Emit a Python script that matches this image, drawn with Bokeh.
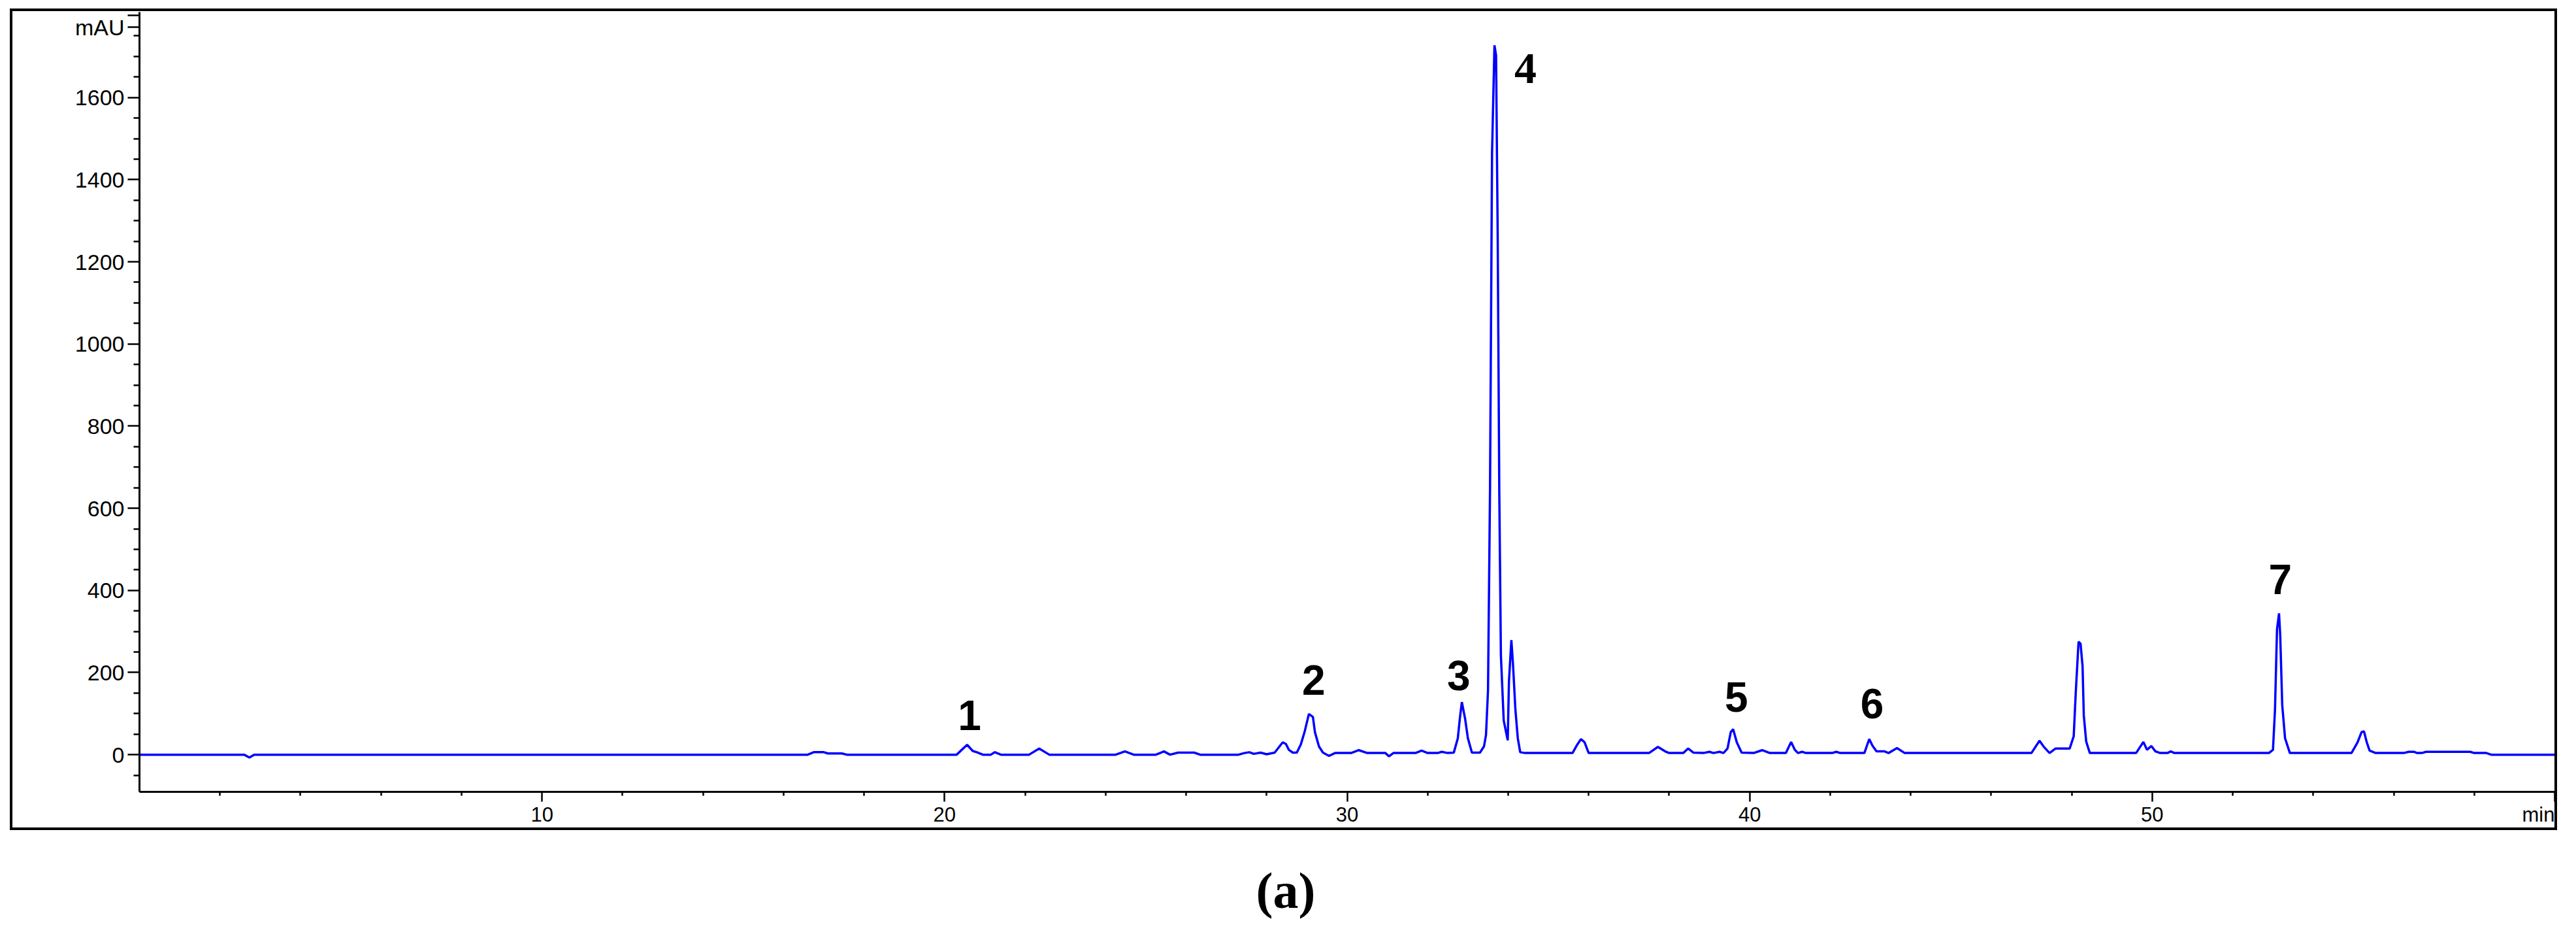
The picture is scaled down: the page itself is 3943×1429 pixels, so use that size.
from bokeh.plotting import figure
from bokeh.models import Range1d, FixedTicker, Label, ColumnDataSource
from bokeh.layouts import column
from bokeh.core.properties import value
from bokeh.embed import file_html
from bokeh.resources import INLINE

# ---- data ----
time_min = [
    0.0, 2.6, 2.73, 2.85, 16.6, 16.75, 17.0, 17.1, 17.45, 17.57,
    20.3, 20.56, 20.7, 20.8, 20.95, 21.15, 21.25, 21.4, 22.1, 22.35,
    22.6, 24.25, 24.48, 24.7, 25.25, 25.45, 25.6, 25.8, 26.2, 26.35,
    27.3, 27.45, 27.57, 27.68, 27.85, 28.0, 28.2, 28.4, 28.48, 28.55,
    28.65, 28.75, 28.85, 28.95, 29.05, 29.15, 29.2, 29.3, 29.4, 29.55,
    29.7, 30.1, 30.29, 30.5, 30.95, 31.04, 31.15, 31.7, 31.85, 32.0,
    32.25, 32.35, 32.5, 32.65, 32.75, 32.8, 32.85, 32.93, 33.0, 33.1,
    33.3, 33.4, 33.45, 33.5, 33.55, 33.6, 33.66, 33.7, 33.74, 33.78,
    33.82, 33.89, 33.99, 34.02, 34.08, 34.12, 34.18, 34.24, 34.3, 34.42,
    35.6, 35.72, 35.81, 35.9, 36.0, 37.5, 37.72, 37.9, 38.0, 38.35,
    38.47, 38.6, 38.85, 39.0, 39.1, 39.25, 39.35, 39.45, 39.53, 39.59,
    39.68, 39.8, 40.1, 40.31, 40.5, 40.9, 41.03, 41.12, 41.2, 41.3,
    41.4, 42.05, 42.15, 42.25, 42.85, 42.97, 43.05, 43.15, 43.35, 43.45,
    43.66, 43.85, 47.0, 47.2, 47.3, 47.45, 47.6, 47.8, 47.95, 48.05,
    48.1, 48.17, 48.22, 48.27, 48.3, 48.36, 48.45, 49.6, 49.78, 49.87,
    49.98, 50.08, 50.2, 50.38, 50.46, 50.55, 52.9, 53.0, 53.05, 53.1,
    53.15, 53.18, 53.23, 53.3, 53.42, 54.95, 55.1, 55.2, 55.26, 55.33,
    55.4, 55.55, 56.25, 56.37, 56.5, 56.58, 56.7, 56.8, 57.9, 58.0,
    58.3, 58.42, 60.0,
]
absorbance_mau = [
    0, 0, -7, 0, 0, 6, 6, 3, 3, 0,
    0, 24, 9, 6, 0, 0, 6, 0, 0, 15,
    0, 0, 8, 0, 0, 8, 0, 5, 5, 0,
    0, 4, 6, 2, 5, 1, 5, 30, 26, 12,
    5, 5, 25, 58, 99, 92, 55, 20, 5, -3,
    4, 4, 11, 4, 4, -4, 4, 4, 10, 4,
    4, 7, 4, 5, 40, 88, 128, 88, 40, 5,
    5, 20, 48, 157, 648, 1464, 1727, 1703, 1271, 640,
    242, 83, 35, 178, 279, 221, 110, 40, 6, 4,
    4, 25, 38, 30, 4, 4, 19, 8, 4, 4,
    15, 5, 4, 7, 4, 7, 4, 15, 55, 62,
    30, 5, 4, 11, 4, 4, 31, 12, 4, 7,
    4, 4, 7, 4, 4, 38, 22, 8, 8, 4,
    16, 4, 4, 34, 20, 4, 15, 15, 15, 45,
    150, 275, 270, 215, 96, 32, 4, 4, 31, 12,
    21, 8, 4, 4, 8, 4, 4, 12, 110, 305,
    344, 290, 120, 40, 4, 4, 30, 55, 57, 30,
    10, 4, 4, 7, 7, 4, 4, 7, 7, 4,
    4, 0, 0,
]

peak_names = ["1", "2", "3", "5", "6", "7"]
peak_label_t = [20.62, 29.17, 32.77, 39.67, 43.04, 53.18]
peak_label_v = [96, 181, 192, 141, 125, 427]
main_peak_name = "4"
main_peak_t = 34.43
main_peak_v = 1670

x_ticks = [10, 20, 30, 40, 50, 60]
x_tick_labels = ["10", "20", "30", "40", "50", "min"]
x_minor = [2, 4, 6, 8, 12, 14, 16, 18, 22, 24, 26, 28, 32, 34, 36, 38,
           42, 44, 46, 48, 52, 54, 56, 58]
y_ticks = [0, 200, 400, 600, 800, 1000, 1200, 1400, 1600, 1771, 1800]
y_tick_labels = ["0", "200", "400", "600", "800", "1000", "1200", "1400", "1600", "mAU", ""]
y_minor = [-50, 50, 100, 150, 250, 300, 350, 450, 500, 550, 650, 700, 750,
           850, 900, 950, 1050, 1100, 1150, 1250, 1300, 1350, 1450, 1500,
           1550, 1650, 1700, 1750]

caption = "(a)"

# ---- main figure: canvas = inside of the black box (page x 27..3918, y 25..1274)
W, H = 3891, 1249
p = figure(width=W, height=H, output_backend="svg", toolbar_location=None,
           x_range=Range1d(0, 60.0), y_range=Range1d(-90.5, 1808),
           min_border_left=194, min_border_right=0, min_border_top=1,
           min_border_bottom=52,
           styles={"outline": "4px solid black"})
p.background_fill_color = "white"
p.border_fill_color = "white"
p.outline_line_color = None
p.xgrid.visible = False
p.ygrid.visible = False

src = ColumnDataSource(dict(t=time_min, v=absorbance_mau))
p.line("t", "v", source=src, line_color="#0000FF", line_width=3.5)

ax = p.xaxis[0]
ax.ticker = FixedTicker(ticks=x_ticks, minor_ticks=x_minor)
ax.major_label_overrides = dict(zip(x_ticks, x_tick_labels))
ay = p.yaxis[0]
ay.ticker = FixedTicker(ticks=y_ticks, minor_ticks=y_minor)
ay.major_label_overrides = dict(zip(y_ticks, y_tick_labels))
for a in (ax, ay):
    a.axis_line_color = "black"
    a.axis_line_width = 3
    a.major_tick_line_color = "black"
    a.major_tick_line_width = 2.5
    a.minor_tick_line_color = "black"
    a.minor_tick_line_width = 2.5
    a.major_tick_in = 0
    a.minor_tick_in = 0
    a.major_label_text_font = "Liberation Sans"
    a.major_label_text_color = "black"
ax.major_tick_out = 15
ax.minor_tick_out = 6
ax.major_label_standoff = 2
ax.major_label_text_font_size = "31px"
ay.major_tick_out = 18
ay.minor_tick_out = 9
ay.major_label_standoff = 5
ay.major_label_text_font_size = "34px"

lab = ColumnDataSource(dict(x=peak_label_t, y=peak_label_v, t=peak_names))
p.text("x", "y", text="t", source=lab, text_font=value("Liberation Sans"),
       text_font_style="bold", text_font_size="64px", text_align="center",
       text_baseline="alphabetic", text_color="black")
p.add_layout(Label(x=main_peak_t, y=main_peak_v, text=main_peak_name,
                   text_font="Liberation Serif", text_font_style="bold",
                   text_font_size="68px", text_align="center",
                   text_baseline="alphabetic", text_color="black"))

boxed = column(p, margin=(17, 0, 0, 19), styles={"outline": "4px solid black"})

# ---- caption strip below the box (transparent, so it never hides the box) ----
CW, CH = 3927, 146
cap = figure(width=CW, height=CH, output_backend="svg", toolbar_location=None,
             x_range=Range1d(0, CW), y_range=Range1d(0, CH),
             x_axis_type=None, y_axis_type=None, min_border=0)
cap.outline_line_color = None
cap.background_fill_alpha = 0
cap.border_fill_alpha = 0
cap.xgrid.visible = False
cap.ygrid.visible = False
cap.add_layout(Label(x=1922, y=50, text=caption, text_font="Liberation Serif",
                     text_font_style="bold", text_font_size="78px",
                     text_align="left", text_baseline="middle",
                     text_color="black"))

layout = column(boxed, cap, spacing=0)
open("out.html", "w").write(file_html(layout, INLINE))
